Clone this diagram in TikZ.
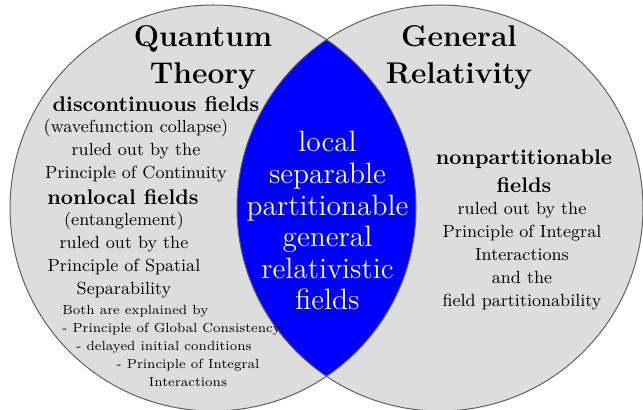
\documentclass[tikz,border=0pt]{standalone}
\usepackage{tikz}
\definecolor{setgray}{HTML}{DDDDDD}
\definecolor{rimgray}{HTML}{606060}
\definecolor{lensblue}{HTML}{0000FF}
\tikzset{
  set/.style={fill=setgray, draw=none},
  rim/.style={draw=rimgray, line width=0.5pt},
  ttl/.style={font=\fontsize{15}{18.5}\selectfont\bfseries, align=center, anchor=base, inner sep=0pt},
  head/.style={font=\fontsize{10.6}{14}\selectfont\bfseries, align=center, anchor=base, inner sep=0pt},
  note/.style={font=\fontsize{8.8}{11.5}\selectfont, align=center, anchor=base, inner sep=0pt},
  fine/.style={font=\fontsize{6.6}{9}\selectfont, align=center, anchor=base, inner sep=0pt},
  core/.style={font=\fontsize{14.7}{15.8}\selectfont, text=white, align=center, anchor=base, inner sep=0pt},
}

\begin{document}
\begin{tikzpicture}[x=0.5pt, y=-0.5pt]
    \useasboundingbox (0,0) rectangle (643,410);
    % the two sets
    \coordinate (qc) at (213,208);
    \coordinate (gc) at (440,208);
    \fill[set] (qc) circle[radius=203];
    \fill[set] (gc) circle[radius=203];
    \begin{scope}
      \clip (qc) circle[radius=203];
      \fill[lensblue] (gc) circle[radius=203];
    \end{scope}
    \draw[rim] (qc) circle[radius=203];
    \draw[rim] (gc) circle[radius=203];
    % titles (placed at the baseline of their last line)
    \node[ttl] (qt) at (203,84) {Quantum\\Theory};
    \node[ttl] (gr) at (459,84) {General\\Relativity};
    % quantum side
    \node[head] (disc) at (156,112) {discontinuous fields};
    \node[note] (discnote) at (136,179) {(wavefunction collapse)\\ruled out by the\\Principle of Continuity};
    \node[head] (nonloc) at (123,205) {nonlocal fields};
    \node[note] (nonlocnote) at (124,295) {(entanglement)\\ruled out by the\\Principle of Spatial\\Separability};
    \node[fine, align=left, anchor=base west] (both) at (62,333) {Both are explained by\\- Principle of Global Consistency};
    \node[fine] (delay) at (164,351) {- delayed initial conditions};
    \node[fine] (integ) at (188,387) {- Principle of Integral\\Interactions};
    % relativity side
    \node[head] (npart) at (524,193) {nonpartitionable\\fields};
    \node[note] (npartnote) at (522,307) {ruled out by the\\Principle of Integral\\Interactions\\and the\\field partitionability};
    % overlap
    \node[core] (lens) at (327.5,310) {local\\separable\\partitionable\\general\\relativistic\\fields};
  \end{tikzpicture}
\end{document}
